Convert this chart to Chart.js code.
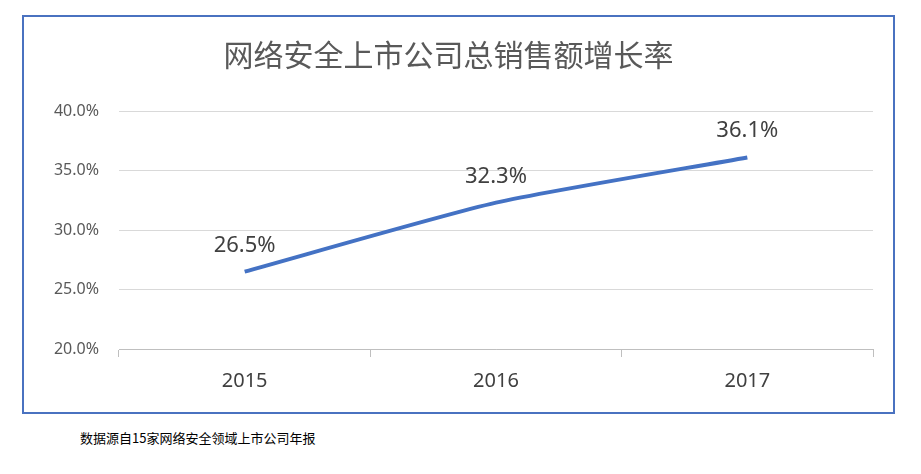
<!DOCTYPE html>
<html><head><meta charset="utf-8">
<script src="https://cdn.jsdelivr.net/npm/chart.js@4"></script>
<style>
body{margin:0;background:#fff;font-family:"Noto Sans CJK SC",sans-serif}
#box{position:absolute;left:22px;top:15px;width:869px;height:395px;border:2px solid #4a72c0}
#note{position:absolute;left:80px;top:428px;font-size:13px;color:#000}
</style></head><body>
<div id="box"><canvas id="c" width="869" height="395"></canvas></div>
<div id="note">数据源自15家网络安全领域上市公司年报</div>
<script>
const years = ["2015","2016","2017"];
const growth = [26.5, 32.3, 36.1];
const yTicks = [20, 25, 30, 35, 40];

const labelPlugin = {
  id: "labels",
  afterDatasetsDraw(chart) {
    const ctx = chart.ctx;
    ctx.save();
    ctx.font = "22px 'Noto Sans', sans-serif";
    ctx.fillStyle = "#404040";
    ctx.textAlign = "center";
    chart.getDatasetMeta(0).data.forEach((p, i) => {
      ctx.fillText(growth[i].toFixed(1) + "%", p.x, p.y - 20);
    });
    ctx.restore();
  }
};

new Chart(document.getElementById("c"), {
  type: "line",
  data: { labels: years, datasets: [{ data: growth, borderColor: "#4472c4", borderWidth: 4, pointRadius: 0, tension: 0.2, fill: false }] },
  options: {
    responsive: false, animation: false,
    layout: { padding: { left: 0, right: 20, top: 0, bottom: 0 } },
    plugins: {
      legend: { display: false }, tooltip: { enabled: false },
      title: { display: true, text: "网络安全上市公司总销售额增长率", color: "#595959",
        font: { size: 30, family: "'Noto Sans CJK SC'", weight: "normal" }, padding: { top: 20, bottom: 38 } }
    },
    scales: {
      x: { offset: true,
        grid: { drawOnChartArea: false, tickLength: 8, color: "#bfbfbf", offset: true },
        border: { color: "#bfbfbf" },
        ticks: { color: "#404040", font: { size: 20, family: "'Noto Sans'" }, padding: 12 },
        afterFit: s => { s.height = 63; } },
      y: { min: 20, max: 40,
        afterBuildTicks: s => { s.ticks = yTicks.map(v => ({ value: v })); },
        grid: { color: "#d9d9d9", drawTicks: false },
        border: { display: false },
        ticks: { color: "#595959", font: { size: 16, family: "'Noto Sans'" }, padding: 20, callback: v => v.toFixed(1) + "%" },
        afterFit: s => { s.width = 95; } }
    }
  },
  plugins: [labelPlugin]
});
</script>
</body></html>
